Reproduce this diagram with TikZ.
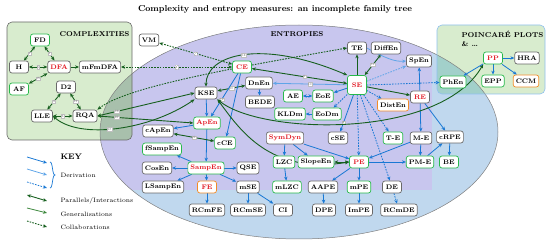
\documentclass[tikz,border=0pt]{standalone}
\usetikzlibrary{arrows.meta,calc}
\definecolor{lav}{RGB}{200,198,238}
\definecolor{lblue}{RGB}{192,216,238}
\definecolor{cgreen}{RGB}{216,236,206}
\definecolor{ovg}{RGB}{168,192,172}
\definecolor{ovt}{RGB}{162,208,202}
\definecolor{bord}{RGB}{105,105,105}
\definecolor{ngreen}{RGB}{40,185,75}
\definecolor{norange}{RGB}{242,140,40}
\definecolor{nred}{RGB}{225,20,30}
\definecolor{dblue}{RGB}{25,120,212}
\definecolor{lbl}{RGB}{95,165,232}
\definecolor{dgreen}{RGB}{22,95,30}
\definecolor{lgreen}{RGB}{60,135,60}
\pgfdeclarelayer{bg}
\pgfdeclarelayer{edges}
\pgfsetlayers{bg,edges,main}
\tikzset{
 nd/.style={draw=bord, fill=white, rounded corners=2.5pt, line width=0.7pt,
   font=\fontsize{6.6}{7}\selectfont\bfseries, inner xsep=2.6pt, inner ysep=0pt,
   minimum height=12pt, minimum width=19pt},
 gn/.style={nd, draw=ngreen},
 on/.style={nd, draw=norange},
 rt/.style={text=nred},
 der/.style={draw=dblue, line width=0.8pt, -{Stealth[length=4pt,width=3.4pt]}},
 derl/.style={draw=lbl, line width=0.8pt, -{Stealth[length=4pt,width=3.4pt]}},
 derd/.style={draw=dblue, line width=0.8pt, dash pattern=on 1.6pt off 1.2pt, -{Stealth[length=4pt,width=3.4pt]}},
 par/.style={draw=dgreen, line width=0.9pt, {Stealth[length=4pt,width=3.4pt]}-{Stealth[length=4pt,width=3.4pt]}},
 gen/.style={draw=dgreen, line width=0.9pt, -{Stealth[length=4pt,width=3.4pt]}},
 genl/.style={draw=lgreen, line width=0.8pt, -{Stealth[length=4pt,width=3.4pt]}},
 col/.style={draw=dgreen, line width=0.9pt, dash pattern=on 1.6pt off 1.2pt, {Stealth[length=4pt,width=3.4pt]}-{Stealth[length=4pt,width=3.4pt]}},
 lab/.style={fill=white, draw=gray!50, line width=0.2pt, inner sep=0.6pt, font=\fontsize{3.2}{3.5}\selectfont\sffamily, text=gray},
 grp/.style={font=\fontsize{7}{8}\selectfont\bfseries, anchor=west},
 keyt/.style={font=\fontsize{6.3}{7}\selectfont, anchor=west}
}
\begin{document}
\begin{tikzpicture}[x=1pt,y=-1pt]
\useasboundingbox (0,0) rectangle (550,246);
\begin{pgfonlayer}{bg}
\fill[lblue] (299,132) ellipse [x radius=199pt, y radius=107pt];
\begin{scope}
 \clip (299,132) ellipse [x radius=199pt, y radius=107pt];
 \fill[lav] (95,20) rectangle (432,190);
\end{scope}
\fill[cgreen, rounded corners=5pt] (7,22) rectangle (132,140);
\fill[cgreen, rounded corners=5pt] (437,25) rectangle (545,94);
\begin{scope}
 \clip (299,132) ellipse [x radius=199pt, y radius=107pt];
 \fill[ovg, rounded corners=5pt] (7,22) rectangle (132,140);
 \fill[ovt, rounded corners=5pt] (437,25) rectangle (545,94);
\end{scope}
\draw[gray, line width=0.5pt] (299,132) ellipse [x radius=199pt, y radius=107pt];
\draw[bord, line width=0.6pt, rounded corners=5pt] (7,22) rectangle (132,140);
\draw[lbl!70, line width=0.6pt, rounded corners=5pt] (437,25) rectangle (545,94);
\end{pgfonlayer}
% titles
\node[font=\fontsize{8.6}{9}\selectfont\bfseries] (title) at (275,9) {Complexity and entropy measures: an incomplete family tree};
\node[grp] (tC) at (56,34) {COMPLEXITIES};
\node[grp] (tE) at (267,34) {ENTROPIES};
\node[grp] (tP) at (458,34) {POINCAR\'E PLOTS};
\node[grp] (tP2) at (458,44) {\& \dots};
% complexity nodes
\node[gn] (FD) at (40,40) {FD};
\node[nd] (H) at (19,67) {H};
\node[nd,rt] (DFA) at (59,67) {DFA};
\node[nd] (mFmDFA) at (100,67) {mFmDFA};
\node[gn] (AF) at (19,89) {AF};
\node[nd] (D2) at (66,87) {D2};
\node[nd] (LLE) at (42,116) {LLE};
\node[nd] (RQA) at (85,116) {RQA};
% entropy nodes
\node[nd] (VM) at (149,40) {VM};
\node[gn,rt] (CE) at (242,67) {CE};
\node[nd] (KSE) at (206,93) {KSE};
\node[nd] (DnEn) at (259,83) {DnEn};
\node[nd] (BEDE) at (260,102) {BEDE};
\node[gn,rt] (ApEn) at (207,123) {ApEn};
\node[nd] (cApEn) at (158,131) {cApEn};
\node[gn] (cCE) at (225,143) {cCE};
\node[gn] (fSampEn) at (162,149) {fSampEn};
\node[nd] (CosEn) at (157,168) {CosEn};
\node[gn,rt] (SampEn) at (206,168) {SampEn};
\node[nd] (QSE) at (248,168) {QSE};
\node[nd] (LSampEn) at (163,187) {LSampEn};
\node[on,rt] (FE) at (207,187) {FE};
\node[nd] (mSE) at (248,187) {mSE};
\node[nd] (RCmFE) at (207,210) {RCmFE};
\node[nd] (RCmSE) at (248,210) {RCmSE};
\node[nd] (CI) at (283,210) {CI};
\node[gn] (mLZC) at (287,187) {mLZC};
\node[gn] (LZC) at (284,162) {LZC};
\node[nd,rt] (SymDyn) at (285,138) {SymDyn};
\node[nd] (cSE) at (338,138) {cSE};
\node[gn] (SlopeEn) at (316,162) {SlopeEn};
\node[gn,rt] (PE) at (359,162) {PE};
\node[nd] (AAPE) at (323,187) {AAPE};
\node[gn] (mPE) at (359,187) {mPE};
\node[nd] (DE) at (392,187) {DE};
\node[nd] (DPE) at (324,210) {DPE};
\node[nd] (ImPE) at (359,210) {ImPE};
\node[nd] (RCmDE) at (399,210) {RCmDE};
\node[gn] (TmE) at (393,138) {T-E};
\node[nd] (MmE) at (421,138) {M-E};
\node[gn] (PME) at (420,162) {PM-E};
\node[nd] (cRPE) at (450,137) {cRPE};
\node[gn] (BE) at (449,162) {BE};
\node[nd] (TE) at (357,48) {TE};
\node[nd] (DiffEn) at (386,48) {DiffEn};
\node[gn,rt,minimum height=19pt] (SE) at (357,85) {SE};
\node[nd] (SpEn) at (419,61) {SpEn};
\node[nd,rt] (RE) at (420,97) {RE};
\node[gn] (AE) at (293,96) {AE};
\node[gn] (EoE) at (323,96) {EoE};
\node[gn] (KLDm) at (290,114) {KLDm};
\node[gn] (EoDm) at (327,114) {EoDm};
\node[on] (DistEn) at (393,105) {DistEn};
% poincare
\node[gn,rt] (PP) at (493,58) {PP};
\node[nd] (HRA) at (527,58) {HRA};
\node[gn] (PhEn) at (453,82) {PhEn};
\node[gn] (EPP) at (493,81) {EPP};
\node[on] (CCM) at (526,81) {CCM};
% key
\node[font=\fontsize{8}{9}\selectfont\bfseries, anchor=west] (kKEY) at (57,157) {KEY};
\node[keyt] (kDer) at (57,175) {Derivation};
\node[keyt] (kPar) at (57,201) {Parallels/Interactions};
\node[keyt] (kGen) at (57,214) {Generalisations};
\node[keyt] (kCol) at (57,227) {Collaborations};
\coordinate (ka1) at (27,157); \coordinate (kb1) at (47,163);
\coordinate (ka2) at (27,169); \coordinate (kb2) at (47,175);
\coordinate (ka3) at (27,182); \coordinate (kb3) at (47,188);
\coordinate (ka4) at (27,195); \coordinate (kb4) at (47,201);
\coordinate (ka5) at (27,208); \coordinate (kb5) at (47,213);
\coordinate (ka6) at (27,221); \coordinate (kb6) at (47,227);
\coordinate (br1) at (50,162); \coordinate (br2) at (50,188);
\begin{pgfonlayer}{edges}
\draw[der] (ka1) -- (kb1);
\draw[derl] (ka2) -- (kb2);
\draw[derd] (ka3) -- (kb3);
\draw[par] (ka4) -- (kb4);
\draw[genl] (ka5) -- (kb5);
\draw[gen, dash pattern=on 1.6pt off 1.2pt] (ka6) -- (kb6);
\draw[dblue, line width=0.7pt] (br1) .. controls (53,162) and (52,175) .. (55,175) .. controls (52,175) and (53,188) .. (br2);
% complexities
\draw[par] (FD) -- node[lab]{1} (H);
\draw[par] (FD) -- node[lab]{3} (DFA);
\draw[par] (H) -- node[lab]{5} (DFA);
\draw[par] (AF) -- node[lab]{15} (DFA);
\draw[gen] (DFA) -- (mFmDFA);
\draw[par] (D2) -- node[lab]{4} (LLE);
\draw[par] (D2) -- node[lab]{13} (RQA);
\draw[par] (LLE) -- node[lab]{6} (RQA);
\draw[par] (RQA.east) -- node[lab,pos=0.2]{16} (KSE.west);
\draw[par] (RQA.east) -- node[lab,pos=0.2]{16} (ApEn.west);
\draw[par] (LLE.east) .. controls (80,140) and (150,130) .. node[lab,pos=0.45]{12} (KSE.south west);
\draw[col] (mFmDFA) -- node[lab,pos=0.5]{8} (CE);
\draw[col] (VM) -- node[lab]{7} (CE);
\draw[col] (RQA.north east) .. controls (125,88) and (220,70) .. (TE.west);
% entropies
\draw[par] (KSE) -- node[lab]{20} (DnEn);
\draw[der] (CE) -- node[lab,pos=0.6]{19} (ApEn);
\draw[der] (CE) -- (cCE);
\draw[der] (DnEn) -- (BEDE);
\draw[der] (KSE) -- (ApEn);
\draw[der] (ApEn) -- (SampEn);
\draw[der] (ApEn) -- (cApEn);
\draw[par] (cApEn) -- node[lab]{22} (cCE);
\draw[der] (SampEn) -- (fSampEn);
\draw[der] (SampEn) -- (CosEn);
\draw[der] (SampEn) -- (QSE);
\draw[der] (SampEn) -- (LSampEn);
\draw[der] (SampEn) -- (FE);
\draw[der] (SampEn) -- (mSE);
\draw[der] (FE) -- (RCmFE);
\draw[der] (mSE) -- (RCmSE);
\draw[der] (mSE) -- (CI);
\draw[der] (SymDyn) -- (LZC);
\draw[der] (SymDyn) -- (SlopeEn);
\draw[der] (SymDyn) -- (PE);
\draw[der] (LZC) -- (mLZC);
\draw[par] (SlopeEn) -- (PE);
\draw[der] (PE) -- (AAPE);
\draw[der] (PE) -- (mPE);
\draw[der] (AAPE) -- (DPE);
\draw[der] (mPE) -- (ImPE);
\draw[derd] (DE) -- (RCmDE);
\draw[der] (PE) -- (PME);
\draw[der] (MmE) -- (PE);
\draw[der] (MmE) -- (PME);
\draw[der] (RE) -- (MmE);
\draw[der] (RE) -- (SpEn);
\draw[der] (RE) -- (cRPE);
\draw[der] (PME) -- (cRPE);
\draw[der] (cRPE) -- (BE);
\draw[gen] (SE) -- (TE);
\draw[par] (SE) -- node[lab]{11} (DiffEn);
\draw[derl] (TE.east) .. controls (385,58) and (395,62) .. (SpEn.west);
\draw[derl, dash pattern=on 1.6pt off 1.2pt] (SE) -- (SpEn);
\draw[derd] (SE.east) -- (PhEn);
\draw[gen] (SE) -- (RE);
\draw[derl] (SE) -- node[lab,pos=0.5]{10} (DnEn);
\draw[par] (CE) -- node[lab,pos=0.55]{9} (SE);
\draw[par] (KSE.north) .. controls (206,55) and (260,38) .. node[lab,pos=0.5]{18} (SE.north west);
\draw[der] (SE) -- (EoE);
\draw[der, {Stealth[length=4pt,width=3.4pt]}-{Stealth[length=4pt,width=3.4pt]}] (AE) -- (EoE);
\draw[der] (EoDm) -- (KLDm);
\draw[derd] (SE) -- (EoDm);
\draw[derd] (SE) -- (DistEn);
\draw[der] (SE) -- node[lab,pos=0.75]{8} (cSE);
\draw[derd] (SE) -- (PE);
\draw[derd] (SE) -- (DE);
\draw[derd] (SE) -- (TmE);
\draw[par] (KSE.south east) .. controls (240,130) and (270,175) .. (PE.west);
\draw[par] (KSE.south east) .. controls (260,135) and (440,140) .. (PP.south west);
\draw[der] (PP) -- (PhEn);
\draw[der] (PP) -- (EPP);
\draw[der] (PP) -- (HRA);
\draw[der] (PP) -- (CCM);
\end{pgfonlayer}
\end{tikzpicture}
\end{document}
